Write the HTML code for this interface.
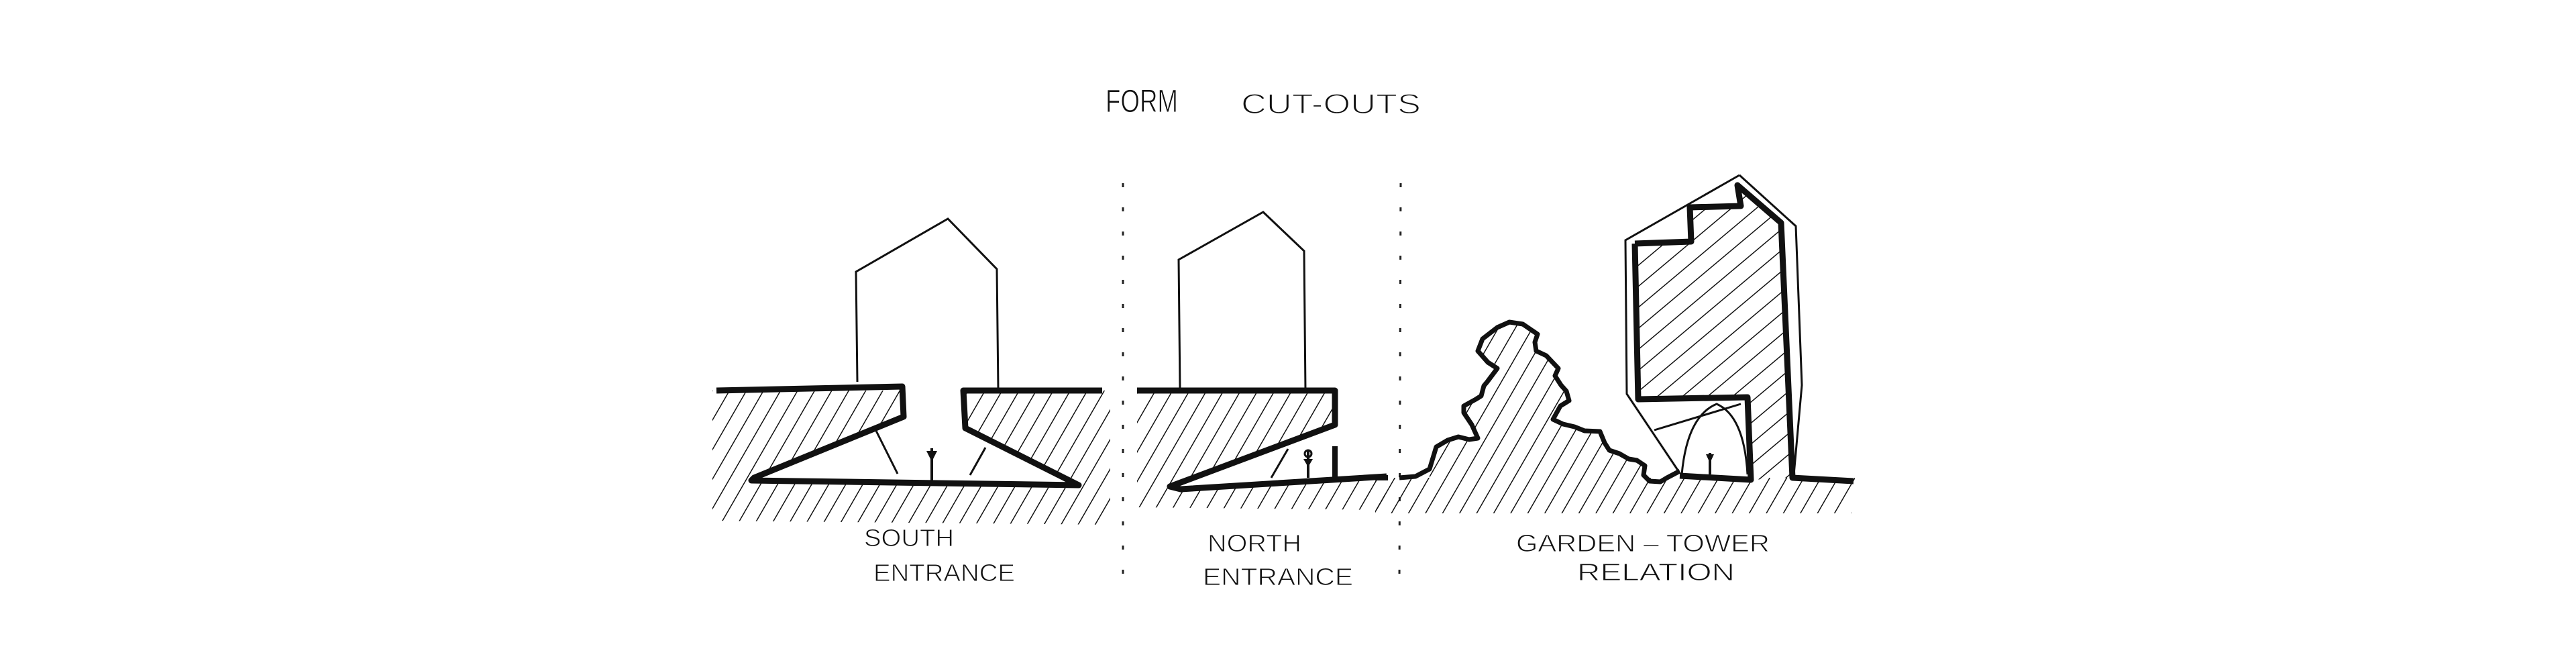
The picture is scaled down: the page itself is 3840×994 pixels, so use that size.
<!DOCTYPE html>
<html><head><meta charset="utf-8"><style>
html,body{margin:0;padding:0;background:#fff;}
svg{display:block;}
text{font-family:"Liberation Sans",sans-serif;fill:#111;}
</style></head><body>
<svg width="3840" height="994" viewBox="0 0 3840 994" xmlns="http://www.w3.org/2000/svg">
<defs>
<pattern id="h1" patternUnits="userSpaceOnUse" width="22" height="22" patternTransform="rotate(30)">
<line x1="0" y1="0" x2="0" y2="22" stroke="#111" stroke-width="3"/>
</pattern>
<pattern id="h2" patternUnits="userSpaceOnUse" width="24" height="24" patternTransform="rotate(50)">
<line x1="0" y1="0" x2="0" y2="24" stroke="#111" stroke-width="3"/>
</pattern>
</defs>
<rect width="3840" height="994" fill="#fff"/>

<!-- title -->
<text x="1648" y="167" font-size="48" textLength="108" lengthAdjust="spacingAndGlyphs" stroke="#fff" stroke-width="1">FORM</text>
<text x="1850" y="169" font-size="42" textLength="268" lengthAdjust="spacingAndGlyphs" stroke="#fff" stroke-width="1.5">CUT-OUTS</text>

<!-- separators -->
<line x1="1674" y1="273" x2="1674" y2="866" stroke="#222" stroke-width="3" stroke-dasharray="6,30"/>
<line x1="2088" y1="273" x2="2086" y2="866" stroke="#222" stroke-width="3" stroke-dasharray="6,30"/>

<!-- SOUTH -->
<polygon points="1062,582 1655,582 1655,782 1062,776" fill="url(#h1)"/>
<polygon points="1345,572 1345,621 1127,714 1608,723 1439,638 1435,578" fill="#fff"/>
<polyline points="1278,569 1276,405 1413,326 1486,401 1488,580" fill="none" stroke="#111" stroke-width="3"/>
<polyline points="1068,582 1345,576 1347,621 1124,712 1120,716 1608,723 1439,638 1436,582 1643,582" fill="none" stroke="#111" stroke-width="9" stroke-linejoin="round"/>
<line x1="1306" y1="642" x2="1338" y2="706" stroke="#111" stroke-width="3"/>
<line x1="1469" y1="667" x2="1446" y2="708" stroke="#111" stroke-width="3"/>
<line x1="1389" y1="668" x2="1389" y2="716" stroke="#111" stroke-width="4"/>
<polygon points="1381,672 1397,672 1389,688" fill="#111"/>
<text x="1288" y="814" font-size="36" textLength="134" lengthAdjust="spacingAndGlyphs" stroke="#fff" stroke-width="1">SOUTH</text>
<text x="1302" y="866" font-size="36" textLength="211" lengthAdjust="spacingAndGlyphs" stroke="#fff" stroke-width="1">ENTRANCE</text>

<!-- NORTH -->
<polygon points="1695,582 2065,582 2065,760 1695,756" fill="url(#h1)"/>
<polygon points="1990,576 1990,633 1744,725 2070,712 2070,576" fill="#fff"/>
<polyline points="1759,582 1757,387 1883,316 1944,374 1946,582" fill="none" stroke="#111" stroke-width="3"/>
<polyline points="1695,582 1990,582 1990,633 1744,725 1760,729 2067,710" fill="none" stroke="#111" stroke-width="9" stroke-linejoin="round"/>
<line x1="1990" y1="665" x2="1990" y2="712" stroke="#111" stroke-width="8"/>
<line x1="1920" y1="669" x2="1895" y2="712" stroke="#111" stroke-width="3"/>
<line x1="1950" y1="672" x2="1950" y2="712" stroke="#111" stroke-width="4"/>
<circle cx="1950" cy="676" r="5" fill="none" stroke="#111" stroke-width="3"/>
<polygon points="1943,684 1957,684 1950,696" fill="#111"/>
<text x="1800" y="822" font-size="36" textLength="140" lengthAdjust="spacingAndGlyphs" stroke="#fff" stroke-width="1">NORTH</text>
<text x="1793" y="872" font-size="36" textLength="224" lengthAdjust="spacingAndGlyphs" stroke="#fff" stroke-width="1">ENTRANCE</text>

<!-- GARDEN-TOWER -->
<polygon points="2050,712 2765,712 2760,765 2050,765" fill="url(#h1)"/>
<polygon points="2131,699 2141,666 2174,651 2203,653 2194,633 2182,605 2208,590 2217,569 2232,549 2203,523 2232,488 2270,483 2292,498 2290,523 2323,549 2327,574 2339,597 2315,625 2347,636 2385,643 2399,671 2428,684 2452,694 2459,717 2485,712 2504,702 2504,712 2131,712" fill="url(#h1)"/>
<polygon points="2437,363 2521,360 2519,309 2595,307 2590,276 2655,332 2672,712 2610,715 2605,592 2442,595" fill="url(#h2)"/>
<polyline points="2050,712 2069,712" fill="none" stroke="#111" stroke-width="8"/>
<polyline points="2086,712 2110,710 2131,699 2141,666 2158,656 2174,651 2190,655 2203,653 2194,633 2182,615 2182,605 2200,595 2208,590 2212,575 2217,569 2232,549 2218,540 2203,523 2210,505 2232,488 2250,480 2270,483 2292,498 2288,510 2290,523 2305,530 2323,549 2318,560 2327,574 2335,583 2339,597 2326,605 2315,625 2330,632 2347,636 2362,642 2385,643 2392,660 2399,671 2414,676 2428,684 2440,686 2452,694 2450,708 2459,717 2475,718 2485,712 2504,702" fill="none" stroke="#111" stroke-width="7" stroke-linejoin="round"/>
<polyline points="2593,261 2677,337 2686,574 2674,708" fill="none" stroke="#111" stroke-width="3"/>
<polyline points="2593,261 2423,358 2425,587 2502,702" fill="none" stroke="#111" stroke-width="3"/>
<polyline points="2437,363 2521,360 2519,309 2595,307 2590,276 2655,332 2672,712 2763,717" fill="none" stroke="#111" stroke-width="9" stroke-linejoin="round"/>
<polyline points="2437,363 2442,595 2605,592 2610,715 2504,709" fill="none" stroke="#111" stroke-width="9" stroke-linejoin="round"/>
<path d="M2507,707 Q2515,620 2559,602 Q2600,620 2605,707" fill="none" stroke="#111" stroke-width="3"/>
<line x1="2466" y1="641" x2="2595" y2="602" stroke="#111" stroke-width="3"/>
<line x1="2549" y1="675" x2="2549" y2="707" stroke="#111" stroke-width="4"/>
<polygon points="2543,677 2555,677 2549,690" fill="#111"/>
<text x="2260" y="822" font-size="36" textLength="378" lengthAdjust="spacingAndGlyphs" stroke="#fff" stroke-width="1">GARDEN – TOWER</text>
<text x="2351" y="865" font-size="36" textLength="235" lengthAdjust="spacingAndGlyphs" stroke="#fff" stroke-width="1">RELATION</text>
</svg>
</body></html>
